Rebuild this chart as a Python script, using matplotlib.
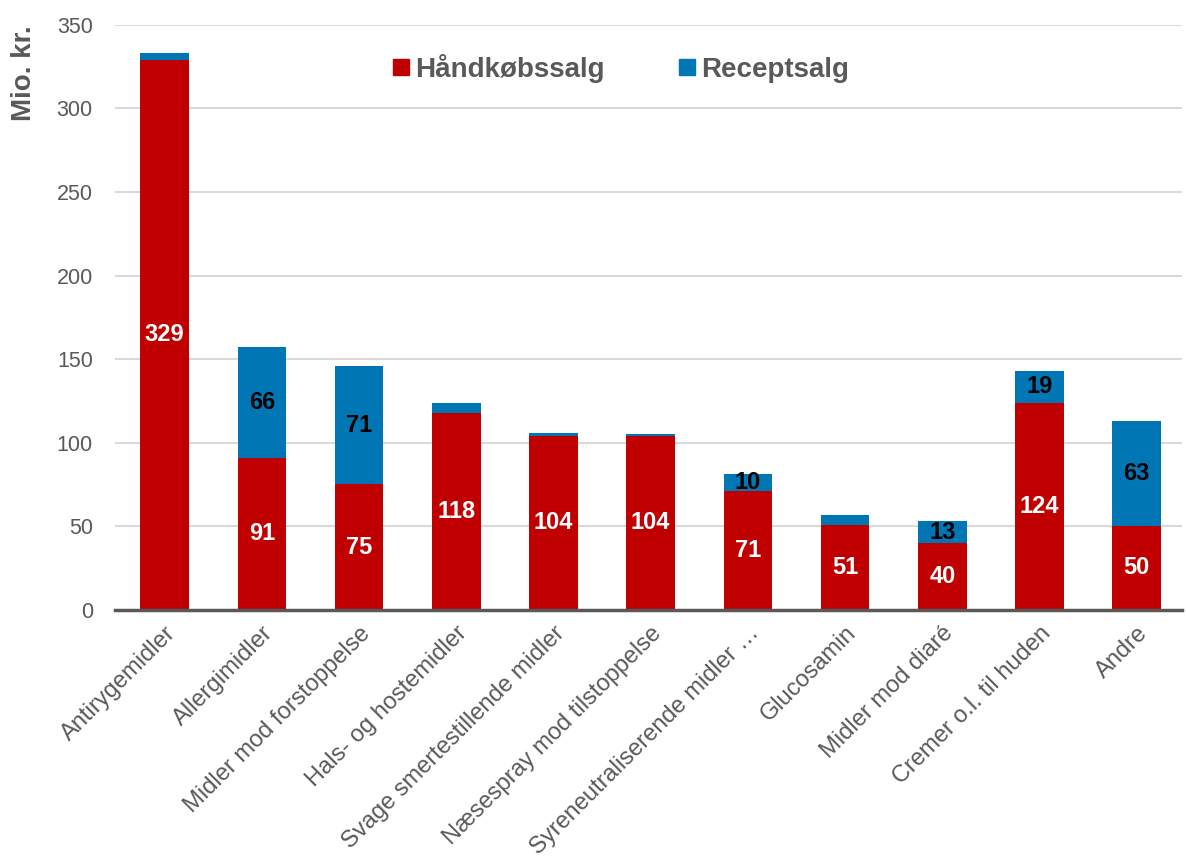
import matplotlib.pyplot as plt
from matplotlib.patches import Patch

plt.rcParams['font.family'] = ['Liberation Sans', 'DejaVu Sans']

categories = ["Antirygemidler", "Allergimidler", "Midler mod forstoppelse",
              "Hals- og hostemidler", "Svage smertestillende midler",
              "Næsespray mod tilstoppelse", "Syreneutraliserende midler …",
              "Glucosamin", "Midler mod diaré", "Cremer o.l. til huden", "Andre"]
haandkoeb = [329, 91, 75, 118, 104, 104, 71, 51, 40, 124, 50]
recept = [4, 66, 71, 6, 2, 1, 10, 6, 13, 19, 63]

RED = "#C00000"
BLUE = "#0076B4"
GRAY = "#595959"

fig = plt.figure(figsize=(11.86, 8.6), dpi=100)
ax = fig.add_axes([0.097, 0.291, 0.9, 0.68])

x = range(len(categories))
ax.bar(x, haandkoeb, width=0.5, color=RED, zorder=3)
ax.bar(x, recept, width=0.5, bottom=haandkoeb, color=BLUE, zorder=3)

# data labels, only for the bigger segments
for i, (h, r) in enumerate(zip(haandkoeb, recept)):
    ax.text(i, h / 2, str(h), ha="center", va="center", color="white",
            fontsize=17, fontweight="bold", zorder=4)
    if r >= 10:
        ax.text(i, h + r / 2, str(r), ha="center", va="center", color="black",
                fontsize=17, fontweight="bold", zorder=4)

ax.set_xlim(-0.51, 10.47)
ax.set_ylim(0, 350)
ax.set_yticks(range(0, 351, 50))
ax.yaxis.grid(True, color="#D9D9D9", linewidth=1.5, zorder=0)
ax.set_axisbelow(True)
for s in ["top", "right", "left"]:
    ax.spines[s].set_visible(False)
ax.spines["bottom"].set_color(GRAY)
ax.spines["bottom"].set_linewidth(2.5)
ax.spines["bottom"].set_zorder(5)
ax.tick_params(axis="both", length=0, colors=GRAY)
ax.tick_params(axis="y", pad=16, labelsize=15.5)
ax.tick_params(axis="x", pad=9, labelsize=17)
ax.set_xticks(list(x))
ax.set_xticklabels(categories, rotation=45, ha="right", rotation_mode="anchor")

fig.text(0.02, 0.971, "Mio. kr.", rotation=90, ha="center", va="top",
         fontsize=20, fontweight="bold", color=GRAY)

handles = [Patch(color=RED), Patch(color=BLUE)]
leg = ax.legend(handles, ["Håndkøbssalg", "Receptsalg"], loc="center",
                bbox_to_anchor=(0.474, 0.926), ncol=2, frameon=False,
                handlelength=0.55, handleheight=0.55, handletextpad=0.22,
                columnspacing=2.7, prop={"size": 20, "weight": "bold"})
for t in leg.get_texts():
    t.set_color(GRAY)

fig.savefig("out.png", dpi=100)
